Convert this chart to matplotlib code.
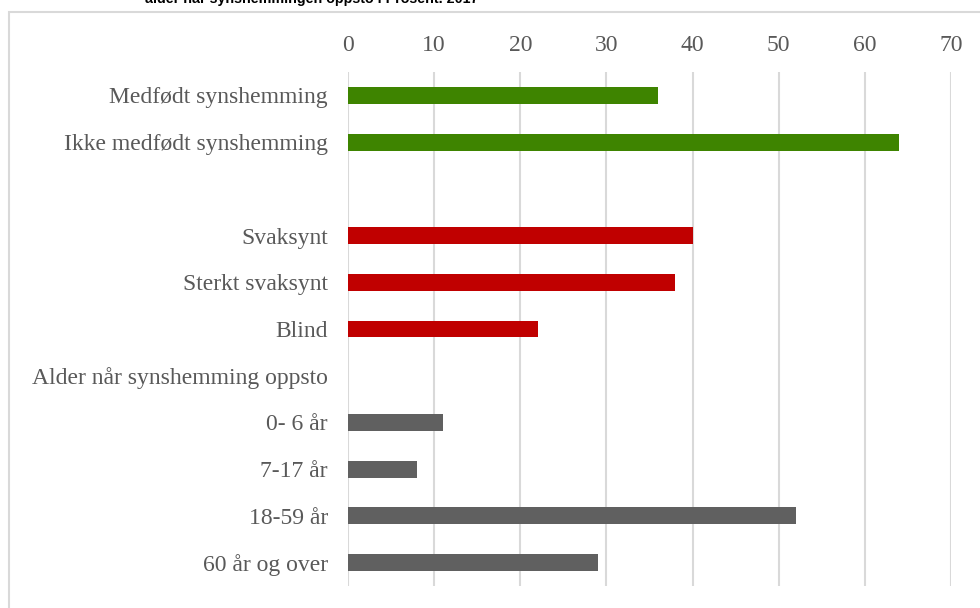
import numpy as np
import matplotlib.pyplot as plt
from matplotlib.patches import Rectangle

# categories top to bottom, blank row kept as a spacer
categories = ['Medfødt synshemming', 'Ikke medfødt synshemming', '',
              'Svaksynt', 'Sterkt svaksynt', 'Blind',
              'Alder når synshemming oppsto',
              '0- 6 år', '7-17 år', '18-59 år', '60 år og over']
values = [36, 64, 0, 40, 38, 22, 0, 11, 8, 52, 29]
groups = ['green', 'green', 'none', 'red', 'red', 'red', 'none',
          'gray', 'gray', 'gray', 'gray']
group_colors = {'green': '#3E8400', 'red': '#C00000', 'gray': '#606060', 'none': 'none'}
xticks = [0, 10, 20, 30, 40, 50, 60, 70]
title = 'alder når synshemmingen oppsto i Prosent. 2017'

plt.rcParams['font.family'] = ['Liberation Serif', 'DejaVu Serif']

fig = plt.figure(figsize=(9.8, 6.08), dpi=100)
ax = fig.add_axes([348/980, 1 - 586/608, (951 - 348)/980, (586 - 72)/608])

y = np.arange(len(categories))
colors = [group_colors[g] for g in groups]
ax.barh(y, values, height=0.36, color=colors, zorder=3)

ax.set_xlim(0, 70)
ax.set_ylim(len(categories) - 0.5, -0.5)
ax.set_xticks(xticks)
ax.set_yticks(y)
ax.set_yticklabels(categories)
ax.xaxis.tick_top()
ax.tick_params(axis='x', length=0, pad=11.5, labelsize=17, labelcolor='#595959')
ax.tick_params(axis='y', length=0, pad=14.5, labelsize=17, labelcolor='#595959')
ax.grid(axis='x', color='#D9D9D9', linewidth=1.5, zorder=0)
for s in ax.spines.values():
    s.set_visible(False)

# chart frame, partly outside the picture
fig.patches.append(Rectangle((9/980, -0.2), 1.2, 1.2 - 12/608, transform=fig.transFigure,
                             fill=False, edgecolor='#D9D9D9', linewidth=1.5))

# title, cut off at the top
fig.text(145/980, 1 - 3/608, title, fontsize=10.3, fontweight='bold',
         family=['Liberation Sans', 'DejaVu Sans'], color='black', va='baseline')

fig.savefig('out.png', dpi=100)
